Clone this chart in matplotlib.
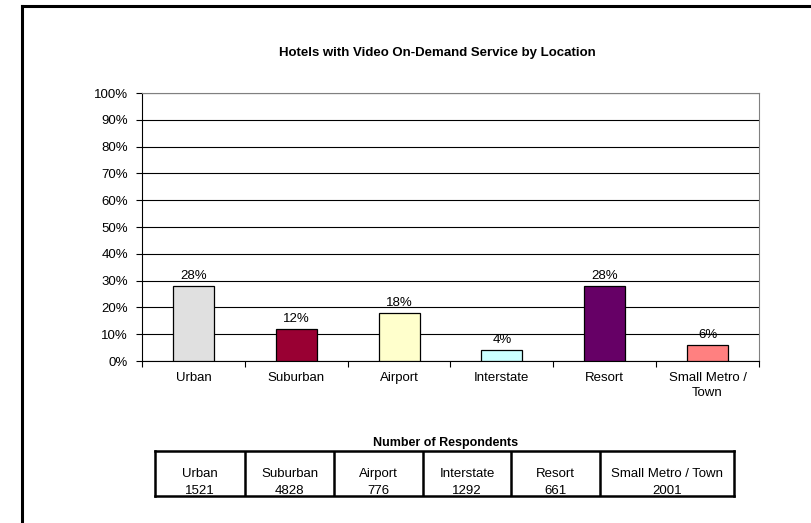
import matplotlib
matplotlib.use("Agg")
import matplotlib.pyplot as plt
from matplotlib.lines import Line2D
from matplotlib.ticker import FixedLocator, PercentFormatter

plt.rcParams["font.family"] = ["Liberation Sans", "DejaVu Sans"]

# 調査データ
locations = ["Urban", "Suburban", "Airport", "Interstate", "Resort", "Small Metro /\nTown"]
shares = [28, 12, 18, 4, 28, 6]  # %
bar_colors = ["#E0E0E0", "#990033", "#FFFFCC", "#CCFFFF", "#660066", "#FF8080"]

table_names = ["Urban", "Suburban", "Airport", "Interstate", "Resort", "Small Metro / Town"]
respondents = [1521, 4828, 776, 1292, 661, 2001]
table_col_px = [90, 89, 89, 88, 89, 134]  # 表の列幅(px)

W, H = 812, 523
fig = plt.figure(figsize=(W / 100, H / 100), dpi=100)

# 外枠(右と下は画像の外まで続く)
fig.add_artist(Line2D([22 / W, 22 / W], [1 - 6 / H, 0], color="black", lw=2.2, transform=fig.transFigure))
fig.add_artist(Line2D([22 / W, 1], [1 - 6 / H, 1 - 6 / H], color="black", lw=2.2, transform=fig.transFigure))

# 棒グラフ
ax = fig.add_axes([142 / W, (H - 361) / H, (759 - 142) / W, (361 - 93) / H])
x = list(range(len(locations)))
bars = ax.bar(x, shares, width=0.4, color=bar_colors, edgecolor="black", linewidth=0.9, zorder=3)
ax.bar_label(bars, labels=[f"{v}%" for v in shares], padding=3, fontsize=9.5)

ax.set_xlim(-0.5, len(locations) - 0.5)
ax.set_ylim(0, 100)
ax.set_yticks(range(0, 101, 10))
ax.yaxis.set_major_formatter(PercentFormatter(decimals=0))
ax.yaxis.grid(True, color="black", linewidth=0.8, zorder=0)
ax.set_xticks(x)
ax.set_xticklabels(locations, fontsize=9.5, linespacing=1.35)
ax.tick_params(axis="x", length=0, pad=8)
ax.xaxis.set_minor_locator(FixedLocator([i - 0.5 for i in range(len(locations) + 1)]))
ax.tick_params(axis="x", which="minor", length=4, width=0.8, direction="out")
ax.tick_params(axis="y", length=4, width=0.8, labelsize=9.5, pad=6)
for side in ["left", "bottom"]:
    ax.spines[side].set_color("black")
for side in ["top", "right"]:
    ax.spines[side].set_color("#808080")

fig.text(437 / W, 1 - 53 / H, "Hotels with Video On-Demand Service by Location",
         ha="center", va="center", fontsize=9.5, fontweight="bold")

# 回答者数の表
tx0, tx1, ty0, ty1 = 155, 734, 451, 496
tax = fig.add_axes([tx0 / W, (H - ty1) / H, (tx1 - tx0) / W, (ty1 - ty0) / H])
tax.set_xlim(0, sum(table_col_px))
tax.set_ylim(0, 1)
tax.set_xticks([])
tax.set_yticks([])
for s in tax.spines.values():
    s.set_linewidth(1.8)
left = 0
for i, (name, n, w) in enumerate(zip(table_names, respondents, table_col_px)):
    if i > 0:
        tax.axvline(left, color="black", lw=1.8)
    cx = left + w / 2
    tax.text(cx, 0.48, name, ha="center", va="center", fontsize=9.5)
    tax.text(cx, 0.12, str(n), ha="center", va="center", fontsize=9.5)
    left += w

fig.text(446 / W, 1 - 443 / H, "Number of Respondents", ha="center", va="center",
         fontsize=9, fontweight="bold")

fig.savefig("out.png", dpi=100)
